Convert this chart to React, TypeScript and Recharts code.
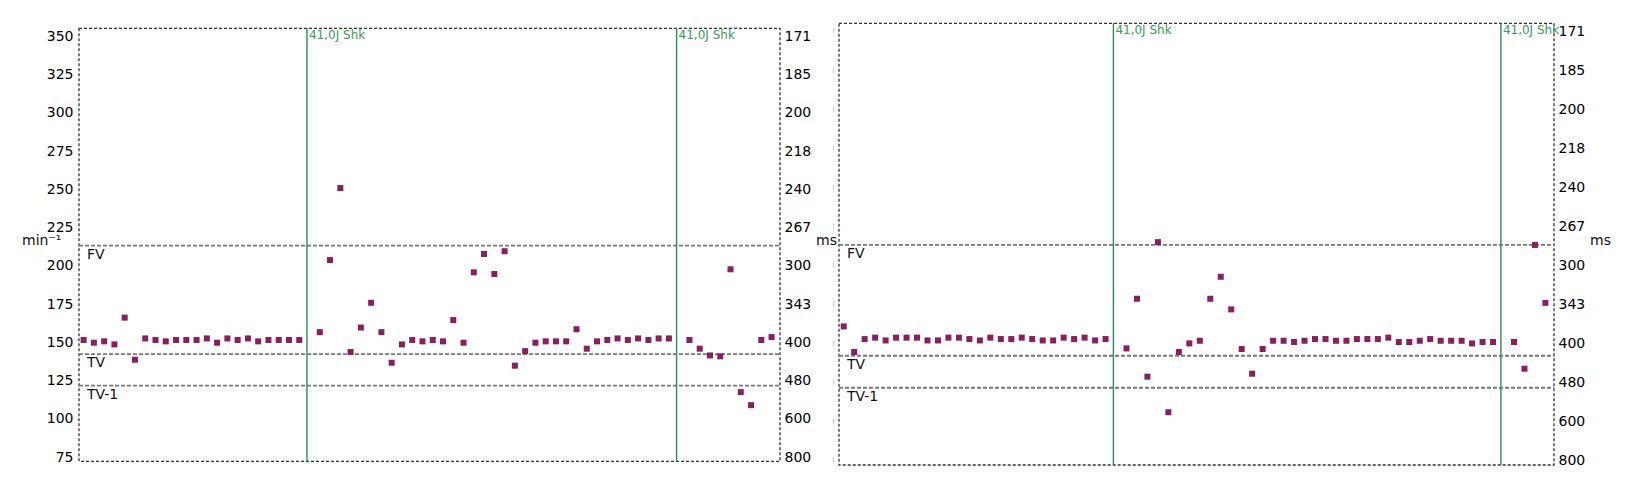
import { ScatterChart, Scatter, XAxis, YAxis, ReferenceLine, ReferenceArea } from 'recharts';

// y axis ticks: rate (min^-1) on the left, cycle length (ms) on the right
const bpmTicks = [75, 100, 125, 150, 175, 200, 225, 250, 275, 300, 325, 350];
const msLabels = ['800', '600', '480', '400', '343', '300', '267', '240', '218', '200', '185', '171'];

// detection zones
const zoneNames = ['FV', 'TV', 'TV-1'];
const zoneLimits = [213, 142, 121.5];

const shockLabel = '41,0J Shk';
const leftShocks = [21.75, 57.75];
const rightShocks = [25.75, 62.75];

// beat-to-beat rate, one slot per beat (null = slot taken by the shock)
const leftRate = [
  151.3, 149.5, 150.4, 148.4, 165.9, 138.4, 152.3, 151.3, 150.4, 151.3, 151.3,
  151.3, 152.3, 149.5, 152.3, 151.3, 152.3, 150.4, 151.3, 151.3, 151.3, 151.3,
  null,
  156.4, 203.5, 250.6, 143.4, 159.4, 175.6, 156.4, 136.4, 148.4, 151.3, 150.4,
  151.3, 150.4, 164.3, 149.5, 195.5, 207.5, 194.4, 209.3, 134.5, 144.0, 149.5,
  150.4, 150.4, 150.4, 158.3, 145.6, 150.4, 151.3, 152.3, 151.3, 152.3, 151.3,
  152.3, 152.3,
  null,
  151.3, 145.6, 141.2, 140.6, 197.5, 117.2, 108.7, 151.3, 153.2,
];

const rightRate = [
  160.8, 144.4, 152.7, 153.6, 151.8, 153.6, 153.6, 153.6, 151.8, 151.8, 153.6,
  153.6, 152.7, 151.8, 153.6, 152.7, 152.7, 153.6, 152.7, 151.8, 151.8, 153.6,
  152.7, 153.6, 151.8, 152.7,
  null,
  146.7, 178.5, 128.6, 214.8, 105.8, 144.4, 149.9, 151.6, 178.5, 192.6, 171.7,
  146.3, 130.5, 146.3, 151.6, 151.6, 150.8, 151.6, 152.7, 152.7, 151.6, 151.6,
  152.7, 152.7, 152.7, 153.6, 150.8, 150.8, 151.6, 152.7, 151.6, 151.6, 151.6,
  149.9, 150.8, 150.8,
  null,
  150.8, 133.7, 213.0, 175.9,
];

const X_DOMAIN: [number, number] = [-0.45, 67.82];
const Y_DOMAIN: [number, number] = [72, 355];
const FONT = 'DejaVu Sans, sans-serif';
const MARKER = '#8a1f5e';
const GREEN = '#2e8b57';
const TEXT_SIZE = 14;

const toPoints = (values: (number | null)[]) =>
  values
    .map((bpm, slot) => ({ slot, bpm }))
    .filter((d) => d.bpm !== null);

const msFormatter = (v: number) => msLabels[bpmTicks.indexOf(v)] ?? '';

const squareShape = (props: any) => (
  <rect x={props.cx - 3} y={props.cy - 3} width={6} height={6} fill={MARKER} />
);

const shockLabelContent = (props: any) => {
  const vb = props.viewBox || {};
  return (
    <text x={vb.x + 2} y={vb.y + 10.5} fontSize={12} fill="#3a9a60" fontFamily={FONT}>
      {shockLabel}
    </text>
  );
};

const zoneLabel = (name: string) => (props: any) => {
  const vb = props.viewBox || {};
  return (
    <text x={vb.x + 8} y={vb.y + 13} fontSize={TEXT_SIZE} fill="#111" fontFamily={FONT}>
      {name}
    </text>
  );
};

const unitLabel = (text: string, dx: number) => (props: any) => {
  const vb = props.viewBox || {};
  return (
    <text x={vb.x + dx} y={245} fontSize={TEXT_SIZE} fill="#111" fontFamily={FONT}>
      {text}
    </text>
  );
};

const faintTick = (props: any) => (
  <line x1={props.x} x2={props.x} y1={props.y - 2.5} y2={props.y + 2.5} stroke="#cfcfcf" strokeWidth={1} />
);

const tickStyle = { fill: '#000', fontSize: TEXT_SIZE, fontFamily: FONT };

function Panel({
  values,
  shocks,
  width,
  top,
  bottom,
  leftWidth,
  rightWidth,
  showLeftLabels,
}: {
  values: (number | null)[];
  shocks: number[];
  width: number;
  top: number;
  bottom: number;
  leftWidth: number;
  rightWidth: number;
  showLeftLabels: boolean;
}) {
  const data = toPoints(values);
  return (
    <ScatterChart width={width} height={488} margin={{ top, right: 0, bottom, left: 0 }}>
      <XAxis type="number" dataKey="slot" domain={X_DOMAIN} allowDataOverflow hide />
      <YAxis
        yAxisId="L"
        orientation="left"
        type="number"
        dataKey="bpm"
        domain={Y_DOMAIN}
        ticks={bpmTicks}
        allowDataOverflow
        width={leftWidth}
        axisLine={false}
        tickLine={false}
        tickSize={0}
        tickMargin={5.5}
        tick={showLeftLabels ? tickStyle : faintTick}
        label={showLeftLabels ? unitLabel('min⁻¹', 22) : undefined}
      />
      <YAxis
        yAxisId="R"
        orientation="right"
        type="number"
        domain={Y_DOMAIN}
        ticks={bpmTicks}
        allowDataOverflow
        width={rightWidth}
        axisLine={false}
        tickLine={false}
        tickSize={0}
        tickMargin={4.5}
        tick={tickStyle}
        tickFormatter={msFormatter}
        label={unitLabel('ms', 36)}
      />
      <ReferenceArea
        yAxisId="L"
        x1={X_DOMAIN[0]}
        x2={X_DOMAIN[1]}
        y1={Y_DOMAIN[0]}
        y2={Y_DOMAIN[1]}
        ifOverflow="visible"
        fill="none"
        fillOpacity={0}
        stroke="#333"
        strokeWidth={1.3}
        strokeDasharray="3 2"
      />
      {zoneLimits.map((lim, i) => (
        <ReferenceLine
          key={zoneNames[i]}
          yAxisId="L"
          y={lim}
          stroke="#7a7a7a"
          strokeWidth={1.8}
          strokeDasharray="4 2"
          label={zoneLabel(zoneNames[i])}
        />
      ))}
      {shocks.map((s) => (
        <ReferenceLine
          key={s}
          yAxisId="L"
          x={s}
          stroke={GREEN}
          strokeWidth={1.4}
          label={shockLabelContent}
        />
      ))}
      <Scatter yAxisId="L" data={data} dataKey="bpm" shape={squareShape} isAnimationActive={false} />
    </ScatterChart>
  );
}

export default function App() {
  return (
    <div
      style={{
        position: 'fixed',
        left: 0,
        top: 0,
        width: 1633,
        height: 488,
        background: '#fff',
        fontFamily: FONT,
      }}
    >
      <div style={{ position: 'absolute', left: 0, top: 0 }}>
        <Panel
          values={leftRate}
          shocks={leftShocks}
          width={850}
          top={28.3}
          bottom={26.7}
          leftWidth={79}
          rightWidth={70}
          showLeftLabels
        />
      </div>
      <div style={{ position: 'absolute', left: 800, top: 0 }}>
        <Panel
          values={rightRate}
          shocks={rightShocks}
          width={833}
          top={23.3}
          bottom={23}
          leftWidth={39}
          rightWidth={79}
          showLeftLabels={false}
        />
      </div>
    </div>
  );
}
